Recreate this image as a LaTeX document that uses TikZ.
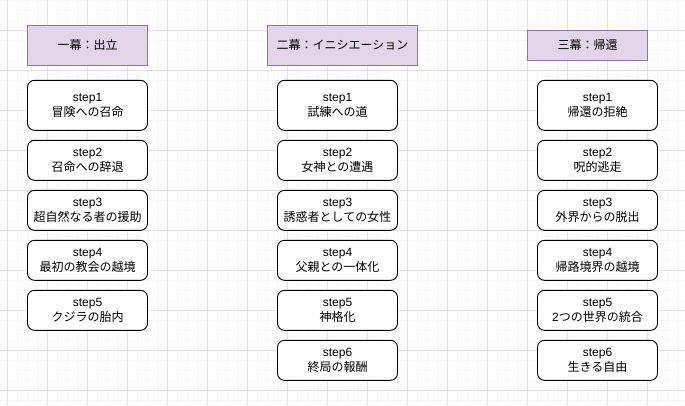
\documentclass[tikz,border=0pt]{standalone}
\usepackage{fontspec}
\setmainfont{Liberation Sans}
\newfontfamily\jp{Noto Sans CJK JP}
\definecolor{hdrfill}{HTML}{E1D5E7}
\definecolor{hdrline}{HTML}{9673A6}
\definecolor{gridmajor}{HTML}{E2E2E2}
\definecolor{gridminor}{HTML}{F6F6F6}
\begin{document}
\begin{tikzpicture}[x=1pt,y=-1pt,
  hdrbox/.style={draw=hdrline,fill=hdrfill,line width=0.9pt,minimum width=120pt,minimum height=40pt,inner sep=0pt,align=center,font=\fontsize{12}{14.5}\selectfont\jp},
  stepbox/.style={draw=black,fill=white,rounded corners=7pt,line width=0.9pt,minimum width=120pt,minimum height=40pt,inner sep=0pt,align=center,font=\fontsize{12}{14.5}\selectfont},
]
\useasboundingbox (0,0) rectangle (685,405);
\fill[white] (0,0) rectangle (685,405);
% grid
\foreach \i in {0,...,68} {
  \draw[gridminor,line width=0.75pt] ({7.3+10*\i},0) -- ({7.3+10*\i},405);
}
\foreach \j in {0,...,40} {
  \draw[gridminor,line width=0.75pt] (0,{0.3+10*\j}) -- (685,{0.3+10*\j});
}
\foreach \i in {0,...,17} {
  \draw[gridmajor,line width=0.75pt] ({7.3+40*\i},0) -- ({7.3+40*\i},405);
}
\foreach \j in {0,...,10} {
  \draw[gridmajor,line width=0.75pt] (0,{30.3+40*\j}) -- (685,{30.3+40*\j});
}
% headers
\node[hdrbox] (h1) at (87.5,45.3) {一幕：出立};
\node[hdrbox,minimum width=150pt] (h2) at (342.5,45.3) {二幕：イニシエーション};
\node[hdrbox,minimum height=30pt] (h3) at (587.5,45.3) {三幕：帰還};
% column 1
\node[stepbox,minimum height=50pt] (a1) at (87.5,105.3) {step1\\{\jp 冒険への召命}};
\node[stepbox] (a2) at (87.5,160.3) {step2\\{\jp 召命への辞退}};
\node[stepbox] (a3) at (87.5,210.3) {step3\\{\jp 超自然なる者の援助}};
\node[stepbox] (a4) at (87.5,260.3) {step4\\{\jp 最初の教会の越境}};
\node[stepbox] (a5) at (87.5,310.3) {step5\\{\jp クジラの胎内}};
% column 2
\node[stepbox,minimum height=50pt] (b1) at (337.5,105.3) {step1\\{\jp 試練への道}};
\node[stepbox] (b2) at (337.5,160.3) {step2\\{\jp 女神との遭遇}};
\node[stepbox] (b3) at (337.5,210.3) {step3\\{\jp 誘惑者としての女性}};
\node[stepbox] (b4) at (337.5,260.3) {step4\\{\jp 父親との一体化}};
\node[stepbox] (b5) at (337.5,310.3) {step5\\{\jp 神格化}};
\node[stepbox] (b6) at (337.5,360.3) {step6\\{\jp 終局の報酬}};
% column 3
\node[stepbox,minimum height=50pt] (c1) at (597.5,105.3) {step1\\{\jp 帰還の拒絶}};
\node[stepbox] (c2) at (597.5,160.3) {step2\\{\jp 呪的逃走}};
\node[stepbox] (c3) at (597.5,210.3) {step3\\{\jp 外界からの脱出}};
\node[stepbox] (c4) at (597.5,260.3) {step4\\{\jp 帰路境界の越境}};
\node[stepbox] (c5) at (597.5,310.3) {step5\\2{\jp つの世界の統合}};
\node[stepbox] (c6) at (597.5,360.3) {step6\\{\jp 生きる自由}};
\end{tikzpicture}
\end{document}
